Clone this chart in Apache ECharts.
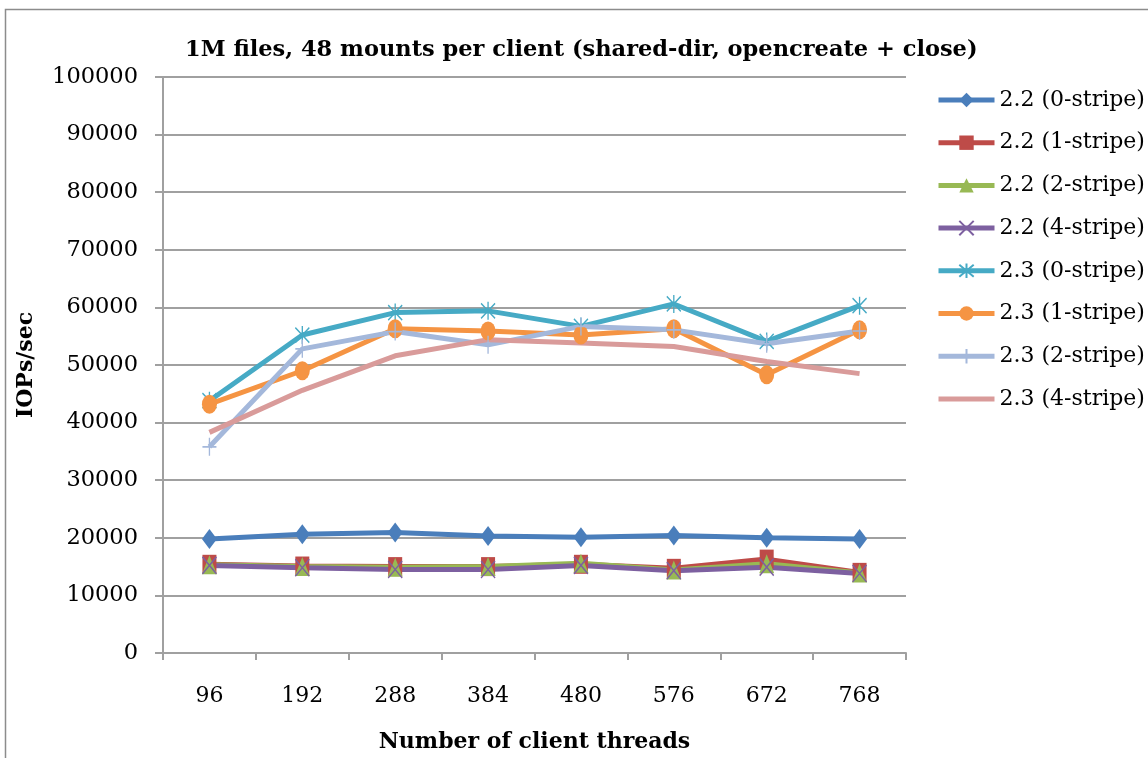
<!DOCTYPE html>
<html>
<head>
<meta charset="utf-8">
<script src="https://cdn.jsdelivr.net/npm/echarts@6/dist/echarts.min.js"></script>
<style>html,body{margin:0;padding:0;background:#fff}#c{width:1148px;height:758px}</style>
</head>
<body>
<div id="c"></div>
<script>
var categories = ['96','192','288','384','480','576','672','768'];
var s22_0 = [19800, 20600, 20900, 20300, 20100, 20400, 20000, 19800];
var s22_1 = [15400, 15100, 15000, 15000, 15400, 14700, 16300, 14000];
var s22_2 = [15300, 15000, 14900, 15000, 15600, 14400, 15500, 13900];
var s22_4 = [15200, 14800, 14500, 14500, 15200, 14300, 14900, 13800];
var s23_0 = [43800, 55200, 59100, 59400, 56700, 60600, 54100, 60300];
var s23_1 = [43200, 49000, 56300, 55900, 55200, 56300, 48300, 56100];
var s23_2 = [35800, 52800, 55800, 53500, 56700, 56100, 53700, 55900];
var s23_4 = [38300, 45600, 51600, 54400, 53800, 53200, 50600, 48500];
var seriesNames = ['2.2 (0-stripe)','2.2 (1-stripe)','2.2 (2-stripe)','2.2 (4-stripe)','2.3 (0-stripe)','2.3 (1-stripe)','2.3 (2-stripe)','2.3 (4-stripe)'];
var seriesData = [s22_0, s22_1, s22_2, s22_4, s23_0, s23_1, s23_2, s23_4];
var colors = ['#4A7EBB','#BE4B48','#98B954','#7D60A0','#46AAC5','#F59443','#A4B8DB','#D99B9A'];
var symbols = ['diamond','rect','triangle','path://M0,0 L10,10 M10,0 L0,10','path://M0,0 L10,10 M10,0 L0,10 M5,-1 L5,11','circle','path://M5,0 L5,10 M0,5 L10,5','none'];
var symbolSizes = [[15,20],[14,19],[15,19],[14,17],[14,18],[15,19],[14,18],1];
var strokeSym = [false,false,false,true,true,false,true,false];

var FONT = 'DejaVu Serif';
var chart = echarts.init(document.getElementById('c'));
var series = seriesNames.map(function(n,i){
  return {
    name: n, type: 'line', data: seriesData[i],
    symbol: symbols[i], symbolSize: symbolSizes[i],
    showSymbol: symbols[i] !== 'none',
    lineStyle: {color: colors[i], width: 5},
    itemStyle: strokeSym[i] ? {color: colors[i], borderColor: colors[i], borderWidth: 1.5} : {color: colors[i], borderWidth: 0},
    emphasis: {disabled: true},
    animation: false
  };
});
var legendData = seriesNames.map(function(n,i){
  return symbols[i] === 'none' ? {name: n, itemStyle: {opacity: 0}} : {name: n};
});
chart.setOption({
  animation: false,
  color: colors,
  graphic: [{type:'rect', shape:{x:5.5, y:9.5, width:1200, height:800}, style:{fill:'none', stroke:'#8c8c8c', lineWidth:1.5}, z:-1}],
  title: {
    text: '1M files, 48 mounts per client (shared-dir, opencreate + close)',
    left: 180, top: 34,
    textStyle: {fontFamily: FONT, fontWeight: 'bold', fontSize: 22.5, color: '#000'}
  },
  legend: {
    orient: 'vertical', left: 931, top: 84,
    itemWidth: 56, itemHeight: 18, itemGap: 20.7,
    lineStyle: {width: 5},
    textStyle: {fontFamily: FONT, fontSize: 22, color: '#000', lineHeight: 22},
    data: legendData
  },
  grid: {left: 163, right: 242, top: 77, bottom: 101},
  xAxis: {
    type: 'category', data: categories, boundaryGap: true,
    name: 'Number of client threads', nameLocation: 'middle', nameGap: 78,
    nameTextStyle: {fontFamily: FONT, fontWeight: 'bold', fontSize: 22, color: '#000'},
    axisLine: {lineStyle: {color: '#a0a0a0', width: 2}},
    axisTick: {show: true, length: 7, lineStyle: {color: '#a0a0a0', width: 2}},
    axisLabel: {fontFamily: FONT, fontSize: 22, color: '#000', margin: 32}
  },
  yAxis: {
    type: 'value', min: 0, max: 100000, interval: 10000,
    name: 'IOPs/sec', nameLocation: 'middle', nameGap: 126,
    nameTextStyle: {fontFamily: FONT, fontWeight: 'bold', fontSize: 22, color: '#000'},
    axisLine: {show: true, lineStyle: {color: '#a0a0a0', width: 2}},
    axisTick: {show: true, length: 8, lineStyle: {color: '#a0a0a0', width: 2}},
    axisLabel: {fontFamily: FONT, fontSize: 22.5, color: '#000', margin: 25, formatter: function(v){ return String(v); }},
    splitLine: {lineStyle: {color: '#a0a0a0', width: 2}}
  },
  series: series
});
</script>
</body>
</html>
